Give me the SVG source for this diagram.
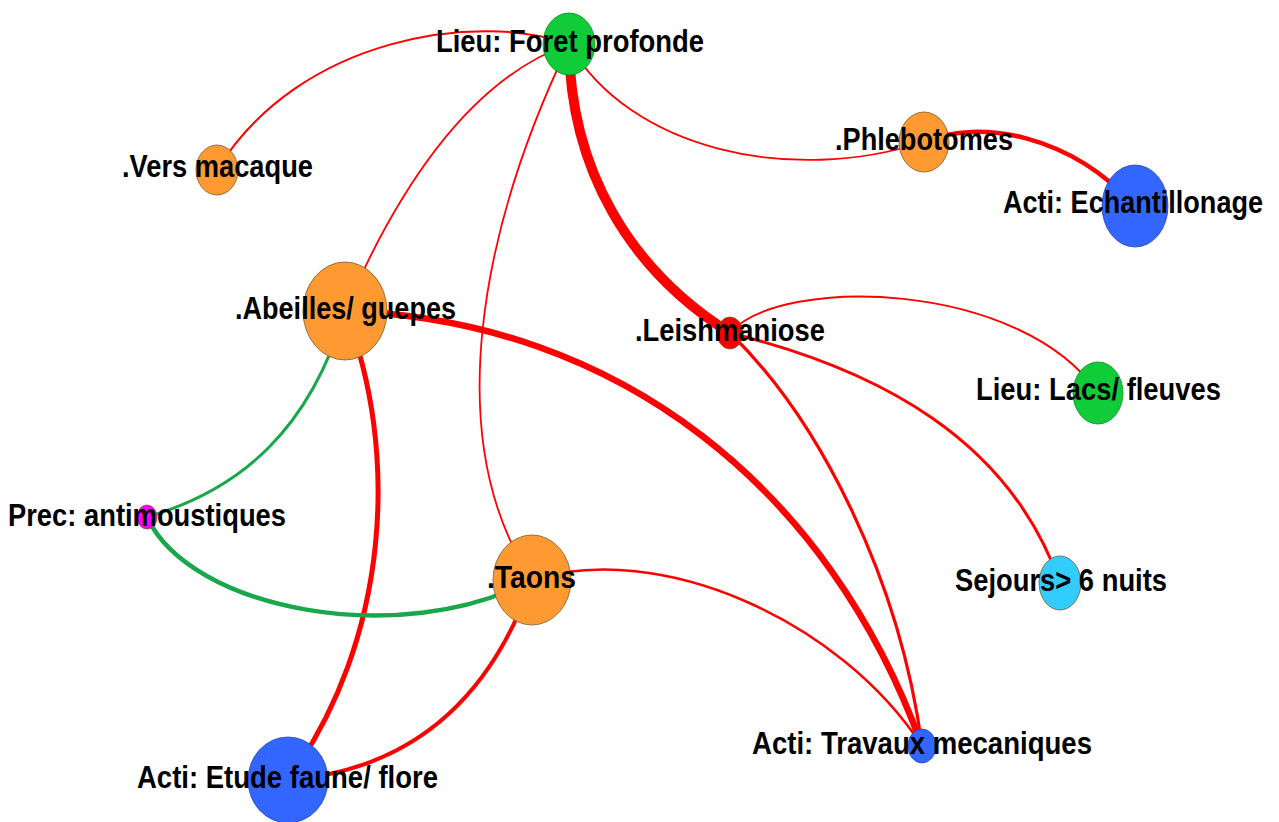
<svg xmlns="http://www.w3.org/2000/svg" width="1279" height="822" viewBox="0 0 1279 822">
<style>
.e{fill:none;stroke:#ff0000;stroke-linecap:round}
.g{fill:none;stroke:#1aa64a;stroke-linecap:round}
.n{stroke:#7a5a2a;stroke-width:0.8}
.lbl{font-family:"Liberation Sans Narrow","Liberation Sans",Arial,sans-serif;font-weight:bold;font-size:32px;fill:#000;text-anchor:middle}
.or{fill:#ff9a33}
.gr{fill:#0fcc38;stroke:#0a8a25}
.bl{fill:#3366ff;stroke:#2244bb}
</style>
<rect width="1279" height="822" fill="#ffffff"/>
<g id="connectors">
<path class="e" stroke-width="2" d="M569,44 C480,12 300,35 217,170"/>
<path class="e" stroke-width="1.8" d="M569,44 Q440,90 345,311"/>
<path class="e" stroke-width="1.8" d="M569,44 C480,230 440,440 532,580"/>
<path class="e" stroke-width="10" d="M569,44 C570,170 630,270 730,333"/>
<path class="e" stroke-width="1.8" d="M569,44 C630,150 790,185 924,142"/>
<path class="e" stroke-width="4.5" d="M924,142 C980,118 1070,135 1135,206"/>
<path class="e" stroke-width="2" d="M730,333 C780,275 1020,280 1098,393"/>
<path class="e" stroke-width="3" d="M730,333 C880,370 1010,440 1060,583"/>
<path class="e" stroke-width="3.2" d="M730,333 C820,420 900,580 922,746"/>
<path class="e" stroke-width="6.5" d="M345,311 C620,320 830,490 922,746"/>
<path class="e" stroke-width="5" d="M345,311 C400,450 390,640 288,780"/>
<path class="g" stroke-width="3" d="M345,311 C310,430 240,490 147,517"/>
<path class="g" stroke-width="4.5" d="M147,517 C190,610 400,650 532,580"/>
<path class="e" stroke-width="2.5" d="M532,580 C660,540 840,620 922,746"/>
<path class="e" stroke-width="4" d="M532,580 C490,700 410,770 288,780"/>
</g>
<g id="foret"><ellipse class="n gr" cx="569" cy="44" rx="26" ry="31"/><text class="lbl" x="570" y="52" textLength="268" lengthAdjust="spacingAndGlyphs">Lieu: Foret profonde</text></g>
<g id="vers"><ellipse class="n or" cx="217" cy="170" rx="21" ry="25"/><text class="lbl" x="217.5" y="177" textLength="191" lengthAdjust="spacingAndGlyphs">.Vers macaque</text></g>
<g id="phlebotomes"><ellipse class="n or" cx="924" cy="142" rx="25" ry="30"/><text class="lbl" x="924" y="150" textLength="178" lengthAdjust="spacingAndGlyphs">.Phlebotomes</text></g>
<g id="echantillonage"><ellipse class="n bl" cx="1135" cy="206" rx="33" ry="41"/><text class="lbl" x="1133" y="213" textLength="260" lengthAdjust="spacingAndGlyphs">Acti: Echantillonage</text></g>
<g id="abeilles"><ellipse class="n or" cx="345" cy="311" rx="42" ry="49"/><text class="lbl" x="345.5" y="319" textLength="221" lengthAdjust="spacingAndGlyphs">.Abeilles/ guepes</text></g>
<g id="leishmaniose"><ellipse class="n" fill="#ff0000" stroke="#cc0000" cx="730" cy="333" rx="13" ry="16"/><text class="lbl" x="730" y="341" textLength="190" lengthAdjust="spacingAndGlyphs">.Leishmaniose</text></g>
<g id="lacs"><ellipse class="n gr" cx="1098" cy="393" rx="25" ry="31"/><text class="lbl" x="1098.5" y="400" textLength="245" lengthAdjust="spacingAndGlyphs">Lieu: Lacs/ fleuves</text></g>
<g id="antimoustiques"><ellipse class="n" fill="#ff00ff" stroke="#aa00aa" cx="147" cy="517" rx="10" ry="12"/><text class="lbl" x="147" y="526" textLength="278" lengthAdjust="spacingAndGlyphs">Prec: antimoustiques</text></g>
<g id="taons"><ellipse class="n or" cx="532" cy="580" rx="39" ry="45"/><text class="lbl" x="531.5" y="588" textLength="89" lengthAdjust="spacingAndGlyphs">.Taons</text></g>
<g id="sejours"><ellipse class="n" fill="#33ccff" stroke="#2299cc" cx="1060" cy="583" rx="21" ry="27"/><text class="lbl" x="1061" y="591" textLength="212" lengthAdjust="spacingAndGlyphs">Sejours&gt; 6 nuits</text></g>
<g id="travaux"><ellipse class="n bl" cx="922" cy="746" rx="14" ry="17"/><text class="lbl" x="922" y="754" textLength="340" lengthAdjust="spacingAndGlyphs">Acti: Travaux mecaniques</text></g>
<g id="etude"><ellipse class="n bl" cx="288" cy="780" rx="40" ry="43"/><text class="lbl" x="287.5" y="788" textLength="301" lengthAdjust="spacingAndGlyphs">Acti: Etude faune/ flore</text></g>
</svg>
